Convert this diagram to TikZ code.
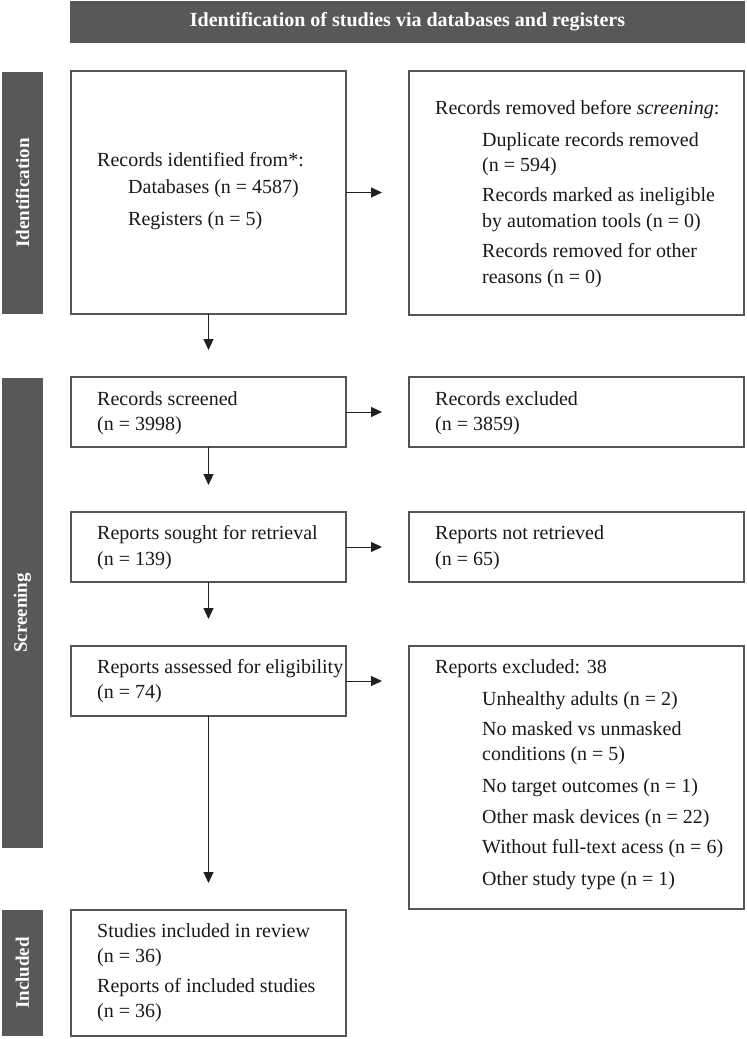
\documentclass[tikz,border=0pt]{standalone}
\usepackage{fontspec}
\setmainfont{Liberation Serif}
\usetikzlibrary{arrows.meta}
\definecolor{barcol}{HTML}{595757}
\definecolor{bordercol}{HTML}{555555}
\definecolor{arrcol}{HTML}{231F20}
\tikzset{
  box/.style={draw=bordercol, line width=1.2pt, inner sep=0pt, outer sep=0pt, anchor=north west},
  sidebar/.style={fill=barcol, inner sep=0pt, outer sep=0pt, anchor=north west},
  sidetext/.style={text=white, font=\fontsize{19}{23}\selectfont\bfseries, rotate=90},
  txt/.style={anchor=base west, inner sep=0pt, font=\fontsize{20}{24}\selectfont, text=black!90},
  arr/.style={draw=arrcol, line width=1pt, -{Triangle[length=11pt,width=10pt]}, shorten >=27pt}
}
\begin{document}
\begin{tikzpicture}[x=1pt,y=-1pt]
\useasboundingbox[fill=white] (0,0) rectangle (747,1039);
% header
\node[sidebar, minimum width=675pt, minimum height=42pt] (hdr) at (70,1) {};
\node[text=white, font=\fontsize{20}{24}\selectfont\bfseries] (hdrt) at (hdr.center) {Identification of studies via databases and registers};
% side bars
\node[sidebar, minimum width=41pt, minimum height=242pt] (sid) at (2,72) {};
\node[sidetext] (sidt) at (sid.center) {Identification};
\node[sidebar, minimum width=41pt, minimum height=470pt] (sscr) at (2,378) {};
\node[sidetext] (sscrt) at (sscr.center) {Screening};
\node[sidebar, minimum width=41pt, minimum height=126pt] (sinc) at (2,910) {};
\node[sidetext] (sinct) at (sinc.center) {Included};
% left boxes
\node[box, minimum width=275pt, minimum height=243pt] (b1) at (71,71) {};
\node[box, minimum width=275pt, minimum height=70pt] (b2) at (71,377) {};
\node[box, minimum width=275pt, minimum height=70pt] (b3) at (71,512) {};
\node[box, minimum width=275pt, minimum height=70pt] (b4) at (71,646) {};
\node[box, minimum width=275pt, minimum height=126pt] (b5) at (71,910) {};
% right boxes
\node[box, minimum width=335pt, minimum height=244pt] (r1) at (409,71) {};
\node[box, minimum width=335pt, minimum height=70pt] (r2) at (409,377) {};
\node[box, minimum width=335pt, minimum height=70pt] (r3) at (409,512) {};
\node[box, minimum width=335pt, minimum height=263pt] (r4) at (409,646) {};
% texts left
\node[txt] (t1a) at (97,166) {Records identified from*:};
\node[txt] (t1b) at (128,193) {Databases (n = 4587)};
\node[txt] (t1c) at (128,225) {Registers (n = 5)};
\node[txt] (t2a) at (97,405) {Records screened};
\node[txt] (t2b) at (97,430) {(n = 3998)};
\node[txt] (t3a) at (97,539) {Reports sought for retrieval};
\node[txt] (t3b) at (97,565) {(n = 139)};
\node[txt] (t4a) at (97,673) {Reports assessed for eligibility};
\node[txt] (t4b) at (97,698) {(n = 74)};
\node[txt] (t5a) at (97,937) {Studies included in review};
\node[txt] (t5b) at (97,962) {(n = 36)};
\node[txt] (t5c) at (97,992) {Reports of included studies};
\node[txt] (t5d) at (97,1017) {(n = 36)};
% texts right
\node[txt] (u1a) at (435,114) {Records removed before \textit{screening}:};
\node[txt] (u1b) at (482,146) {Duplicate records removed};
\node[txt] (u1c) at (482,171) {(n = 594)};
\node[txt] (u1d) at (482,201) {Records marked as ineligible};
\node[txt] (u1e) at (482,227) {by automation tools (n = 0)};
\node[txt] (u1f) at (482,257) {Records removed for other};
\node[txt] (u1g) at (482,283) {reasons (n = 0)};
\node[txt] (u2a) at (435,405) {Records excluded};
\node[txt] (u2b) at (435,430) {(n = 3859)};
\node[txt] (u3a) at (435,539) {Reports not retrieved};
\node[txt] (u3b) at (435,565) {(n = 65)};
\node[txt] (u4a) at (435,673) {Reports excluded: 38};
\node[txt] (u4b) at (482,705) {Unhealthy adults (n = 2)};
\node[txt] (u4c) at (482,735) {No masked vs unmasked};
\node[txt] (u4d) at (482,760) {conditions (n = 5)};
\node[txt] (u4e) at (482,792) {No target outcomes (n = 1)};
\node[txt] (u4f) at (482,823) {Other mask devices (n = 22)};
\node[txt] (u4g) at (482,853) {Without full-text acess (n = 6)};
\node[txt] (u4h) at (482,885) {Other study type (n = 1)};
% arrows
\draw[arr] (b1.east) -- (b1.east -| r1.west);
\draw[arr] (b2.east) -- (b2.east -| r2.west);
\draw[arr] (b3.east) -- (b3.east -| r3.west);
\draw[arr] (b4.east) -- (b4.east -| r4.west);
\draw[arr] (b1.south) -- (b2.north);
\draw[arr] (b2.south) -- (b3.north);
\draw[arr] (b3.south) -- (b4.north);
\draw[arr] (b4.south) -- (b5.north);
\end{tikzpicture}
\end{document}
